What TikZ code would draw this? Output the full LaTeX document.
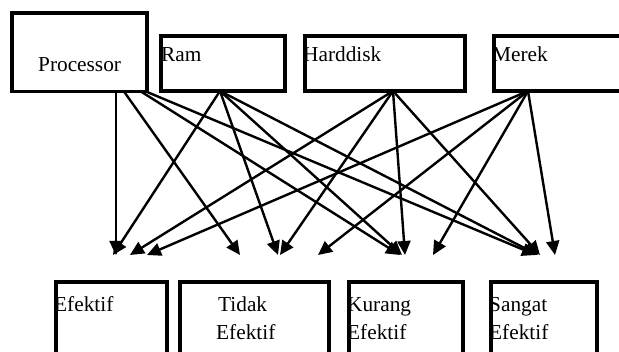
\documentclass[tikz,border=0pt]{standalone}
\usepackage{fontspec}
\setmainfont{Liberation Serif}
\usetikzlibrary{arrows.meta}

\begin{document}
\begin{tikzpicture}[x=1pt, y=-1pt, line join=miter,
  box/.style={draw, line width=3.6pt, inner sep=0pt, outer sep=0pt},
  lbl/.style={anchor=base west, inner sep=0pt, align=left, font=\fontsize{21.3}{28}\selectfont},
  arr/.style={line width=2.4pt, -{Triangle[length=14pt,width=13pt]}}]
\useasboundingbox (0,0) rectangle (619,352);
\clip (0,0) rectangle (619,352);

\node[box, minimum width=135pt, minimum height=78.5pt] (proc) at (79.5,52.3) {};
\node[box, minimum width=124pt, minimum height=55pt] (ram) at (223,63.5) {};
\node[box, minimum width=160pt, minimum height=55pt] (hdd) at (385,63.5) {};
\node[box, minimum width=146pt, minimum height=55pt] (merek) at (567,63.5) {};

\node[box, minimum width=111pt, minimum height=90pt] (efektif) at (111.5,327) {};
\node[box, minimum width=149pt, minimum height=90pt] (tidak) at (254.5,327) {};
\node[box, minimum width=114pt, minimum height=90pt] (kurang) at (406,327) {};
\node[box, minimum width=106pt, minimum height=90pt] (sangat) at (544,327) {};

\node[lbl] (lproc) at (38,72) {Processor};
\node[lbl] (lram) at (161,62) {Ram};
\node[lbl] (lhdd) at (303,62) {Harddisk};
\node[lbl] (lmerek) at (492,62) {Merek};
\node[lbl] (lefektif) at (54,312) {Efektif};
\node[lbl] (ltidak) at (216,340) {\hspace{2pt}Tidak\\Efektif};
\node[lbl] (lkurang) at (347,340) {Kurang\\Efektif};
\node[lbl] (lsangat) at (489,340) {Sangat\\Efektif};

\coordinate (ef1) at (116,255);
\coordinate (ef2) at (113,255);
\coordinate (ef3) at (130,255);
\coordinate (ef4) at (147,255);
\coordinate (td1) at (240,255);
\coordinate (td2) at (278,255);
\coordinate (td3) at (280,255);
\coordinate (td4) at (318,255);
\coordinate (kr1) at (400,255);
\coordinate (kr2) at (402,255);
\coordinate (kr3) at (405,255);
\coordinate (kr4) at (433,255);
\coordinate (sg1) at (536,255);
\coordinate (sg2) at (538,255);
\coordinate (sg3) at (540,255);
\coordinate (sg4) at (555,255);

\draw[arr] ([xshift=36.5pt]proc.south) -- (ef1);
\draw[arr] ([xshift=44.5pt]proc.south) -- (td1);
\draw[arr] ([xshift=61.5pt]proc.south) -- (kr1);
\draw[arr] ([xshift=66.5pt]proc.south) -- (sg1);

\foreach \t in {ef2,td2,kr2,sg2}
  \draw[arr] ([xshift=-3pt]ram.south) -- (\t);
\foreach \t in {ef3,td3,kr3,sg3}
  \draw[arr] ([xshift=8pt]hdd.south) -- (\t);
\foreach \t in {ef4,td4,kr4,sg4}
  \draw[arr] ([xshift=-39pt]merek.south) -- (\t);
\end{tikzpicture}
\end{document}
